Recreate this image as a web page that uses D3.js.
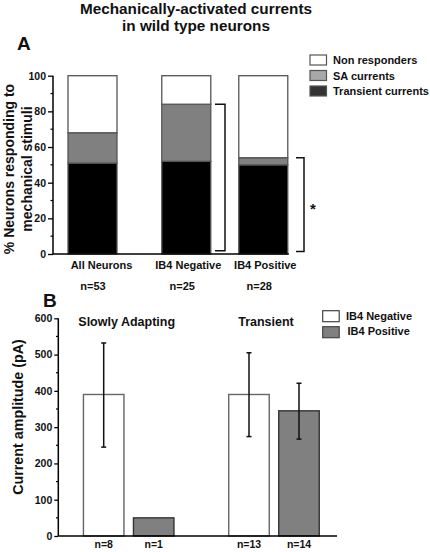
<!DOCTYPE html>
<html><head><meta charset="utf-8">
<script src="https://cdn.jsdelivr.net/npm/d3@7"></script>
<style>
body{margin:0;background:#fff;}
text{font-family:"Liberation Sans",Arial,sans-serif;font-weight:bold;fill:#111;}
</style></head>
<body><svg id="c" width="430" height="552"></svg>
<script>
// ---------- Data ----------
const titleLines = ["Mechanically-activated currents", "in wild type neurons"];
// Panel A
const catsA = ["All Neurons", "IB4 Negative", "IB4 Positive"];
const nA = ["n=53", "n=25", "n=28"];
const groupA = [0, 1, 1];
const transientA = [51, 52, 50];
const saA = [17, 32, 4];
const nonRespA = [32, 16, 46];
const seriesA = ["Transient currents", "SA currents", "Non responders"];
const legendA = ["Non responders", "SA currents", "Transient currents"];
const ticksA = [0, 20, 40, 60, 80, 100];
const yLabelA = ["% Neurons responding to", "mechanical stimuli"];
// Panel B
const groupsB = ["Slowly Adapting", "Transient"];
const seriesB = ["IB4 Negative", "IB4 Positive"];
const meanB = [390, 50, 390, 345];
const errHiB = [532, null, 505, 421];
const errLoB = [245, null, 274, 267];
const nB = ["n=8", "n=1", "n=13", "n=14"];
const ticksB = [0, 100, 200, 300, 400, 500, 600];
const yLabelB = "Current amplitude (pA)";

// ---------- Layout constants ----------
const labelDxA = [9, 2, 2];
const nDxA = [0.5, -4, -4];

// ---------- Drawing ----------
const svg = d3.select("#c");
const black = "#000";

// Title
svg.selectAll("text.title").data(titleLines).join("text")
  .attr("x", 196).attr("y", (d, i) => 14 + i * 17)
  .attr("text-anchor", "middle").attr("font-size", 15.3).text(d => d);

svg.append("text").attr("x", 17).attr("y", 50).attr("font-size", 19).text("A");
svg.append("text").attr("x", 43).attr("y", 307).attr("font-size", 19).text("B");

// ===== Panel A =====
const yA = d3.scaleLinear().domain([0, 100]).range([254, 75.7]);
const slotA = d3.scaleLinear().domain([0, 1]).range([92.5, 169.5]);
const gapA = 0.218;
const bwA = 49;
const cxA = i => slotA(i + gapA * groupA[i]);

const colorsA = { "Transient currents": "#000", "SA currents": "#808080", "Non responders": "#fff" };
const legendColorsA = { "Transient currents": "#333", "SA currents": "#a8a8a8", "Non responders": "#fff" };

const rowsA = catsA.map((c, i) => ({ cat: c, i, "Transient currents": transientA[i], "SA currents": saA[i], "Non responders": nonRespA[i] }));
const stackA = d3.stack().keys(seriesA)(rowsA);

const gA = svg.append("g");
stackA.forEach(layer => {
  gA.selectAll(null).data(layer).join("rect")
    .attr("x", d => cxA(d.data.i) - bwA / 2)
    .attr("width", bwA)
    .attr("y", d => yA(d[1]))
    .attr("height", d => yA(d[0]) - yA(d[1]))
    .attr("fill", colorsA[layer.key])
    .attr("stroke", "#555").attr("stroke-width", 1.3);
});

// axes A
const axA = d3.axisLeft(yA).tickValues(ticksA).tickSize(5).tickPadding(2);
const gyA = svg.append("g").attr("transform", "translate(53,0)").call(axA);
gyA.select(".domain").attr("stroke-width", 1.5);
gyA.selectAll(".tick line").attr("stroke-width", 1.3);
gyA.selectAll(".tick text").attr("font-size", 10.5).attr("font-family", "Liberation Sans, Arial").attr("font-weight", "bold").attr("fill", "#111");
const minorA = d3.range(10, 100, 20);
svg.selectAll(null).data(minorA).join("line")
  .attr("x1", 50.5).attr("x2", 53).attr("y1", d => yA(d)).attr("y2", d => yA(d))
  .attr("stroke", black).attr("stroke-width", 1.2);
gyA.select(".domain").attr("d", `M0,${yA(100)}V${yA(0)}`);
svg.append("line").attr("x1", 53).attr("x2", cxA(2) + bwA / 2 + 1)
  .attr("y1", yA(0)).attr("y2", yA(0)).attr("stroke", black).attr("stroke-width", 1.5);

// x labels A
svg.selectAll(null).data(catsA).join("text")
  .attr("x", (d, i) => cxA(i) + labelDxA[i]).attr("y", 268.5)
  .attr("text-anchor", "middle").attr("font-size", 11).text(d => d);
svg.selectAll(null).data(nA).join("text")
  .attr("x", (d, i) => cxA(i) + nDxA[i]).attr("y", 290)
  .attr("text-anchor", "middle").attr("font-size", 11).text(d => d);

// y label A
svg.append("text").attr("transform", "translate(0,169) rotate(-90)")
  .selectAll("tspan").data(yLabelA).join("tspan")
  .attr("x", 0).attr("y", (d, i) => 14 + i * 17.7)
  .attr("text-anchor", "middle").attr("font-size", 14).text(d => d);

// brackets
function bracket(x, top, bottom, len) {
  svg.append("path")
    .attr("d", `M${x - len},${yA(top)}H${x}V${yA(bottom)}H${x - len}`)
    .attr("fill", "none").attr("stroke", "#111").attr("stroke-width", 1.5);
}
bracket(225, transientA[1] + saA[1], 1.8, 10);
bracket(304, transientA[2] + saA[2], 1.4, 8);
svg.append("text").attr("x", 310).attr("y", 214).attr("font-size", 15).attr("font-weight", "normal").text("*");

// legend A
const lgA = svg.append("g");
legendA.forEach((k, i) => {
  lgA.append("rect").attr("x", 310).attr("y", 55 + i * 15.5).attr("width", 16.5).attr("height", 10)
    .attr("fill", legendColorsA[k]).attr("stroke", "#555").attr("stroke-width", 1.2);
  lgA.append("text").attr("x", 333).attr("y", 64 + i * 15.5).attr("font-size", 11).text(k);
});

// ===== Panel B =====
const yB = d3.scaleLinear().domain([0, 600]).range([536, 318.3]);
const slotB = d3.scaleLinear().domain([0, 1]).range([103.7, 153.7]);
const gapB = 0.906;
const bwB = 40.5;
const idxB = d3.range(4);
const cxB = i => slotB(i + gapB * Math.floor(i / 2));
const fillB = { "IB4 Negative": "#fff", "IB4 Positive": "#808080" };

svg.selectAll(null).data(idxB).join("rect")
  .attr("x", i => cxB(i) - bwB / 2).attr("width", bwB)
  .attr("y", i => yB(meanB[i])).attr("height", i => yB(0) - yB(meanB[i]))
  .attr("fill", i => fillB[seriesB[i % 2]])
  .attr("stroke", i => i % 2 ? "#333" : "#666").attr("stroke-width", 1.4);

// error bars
const errIdx = idxB.filter(i => errHiB[i] != null);
const ge = svg.append("g").attr("stroke", "#111").attr("stroke-width", 1.5);
errIdx.forEach(i => {
  const x = cxB(i);
  ge.append("line").attr("x1", x).attr("x2", x).attr("y1", yB(errHiB[i])).attr("y2", yB(errLoB[i]));
  ge.append("line").attr("x1", x - 2.5).attr("x2", x + 2.5).attr("y1", yB(errHiB[i])).attr("y2", yB(errHiB[i]));
  ge.append("line").attr("x1", x - 2.5).attr("x2", x + 2.5).attr("y1", yB(errLoB[i])).attr("y2", yB(errLoB[i]));
});

// axes B
const axB = d3.axisLeft(yB).tickValues(ticksB).tickSize(4).tickPadding(2);
const gyB = svg.append("g").attr("transform", "translate(58.3,0)").call(axB);
gyB.select(".domain").attr("d", `M0,${yB(600)}V${yB(0)}`).attr("stroke-width", 1.5);
gyB.selectAll(".tick line").attr("stroke-width", 1.3);
gyB.selectAll(".tick text").attr("font-size", 10.5).attr("font-family", "Liberation Sans, Arial").attr("font-weight", "bold").attr("fill", "#111");
const minorB = d3.range(50, 600, 100);
svg.selectAll(null).data(minorB).join("line")
  .attr("x1", 56).attr("x2", 58.3).attr("y1", d => yB(d)).attr("y2", d => yB(d))
  .attr("stroke", black).attr("stroke-width", 1.2);
svg.append("line").attr("x1", 58.3).attr("x2", 337).attr("y1", yB(0)).attr("y2", yB(0))
  .attr("stroke", black).attr("stroke-width", 1.5);

// group labels B
svg.selectAll(null).data(groupsB).join("text")
  .attr("x", (d, g) => (cxB(2 * g) + cxB(2 * g + 1)) / 2 - (g ? 8 : 2)).attr("y", 325.5)
  .attr("text-anchor", "middle").attr("font-size", 12.5).text(d => d);

svg.selectAll(null).data(nB).join("text")
  .attr("x", (d, i) => cxB(i)).attr("y", 548)
  .attr("text-anchor", "middle").attr("font-size", 10.5).text(d => d);

svg.append("text").attr("transform", "translate(23,417) rotate(-90)")
  .attr("text-anchor", "middle").attr("font-size", 14.3).text(yLabelB);

// legend B
seriesB.forEach((k, i) => {
  svg.append("rect").attr("x", 322.7).attr("y", 310.7 + i * 16).attr("width", 16.5).attr("height", 11)
    .attr("fill", fillB[k]).attr("stroke", "#444").attr("stroke-width", 1.2);
  svg.append("text").attr("x", 346 + i * 1.5).attr("y", 319.5 + i * 15).attr("font-size", 11).text(k);
});
</script></body></html>
